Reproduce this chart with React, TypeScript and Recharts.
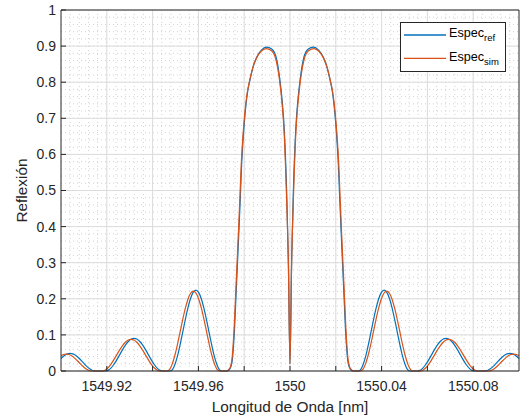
import React from "react";
import { LineChart, Line, XAxis, YAxis, CartesianGrid, Legend } from "recharts";

// Espec_ref (blue) — wavelength [nm] and reflection
const refWl = [
  // side lobe -3
  1549.9, 1549.9015, 1549.9028, 1549.904, 1549.9052, 1549.9065, 1549.908, 1549.9095, 1549.911, 1549.9125, 1549.9138, 1549.915,
  // side lobe -2
  1549.9194, 1549.9205, 1549.9217, 1549.923, 1549.9243, 1549.9256, 1549.9269, 1549.9282, 1549.9295, 1549.9307, 1549.9319,
  1549.9331, 1549.9343, 1549.9356, 1549.9369, 1549.9382, 1549.9395, 1549.9408, 1549.9421, 1549.9433, 1549.9444,
  // side lobe -1
  1549.9477, 1549.9488, 1549.9499, 1549.951, 1549.9521, 1549.9532, 1549.9543, 1549.9554, 1549.9565, 1549.9577, 1549.9589,
  1549.9601, 1549.9613, 1549.9624, 1549.9635, 1549.9646, 1549.9657, 1549.9668, 1549.9679, 1549.969, 1549.9701,
  // main lobes
  1549.9725, 1549.9735, 1549.9742, 1549.9748, 1549.9753, 1549.9758, 1549.9764, 1549.977, 1549.9777, 1549.9783, 1549.9789,
  1549.9796, 1549.9804, 1549.9814, 1549.9825, 1549.984, 1549.9855, 1549.9875, 1549.9898, 1549.992, 1549.9939, 1549.9956,
  1549.9967, 1549.9975, 1549.9986, 1549.9993, 1550,
  1550.0007, 1550.0014, 1550.0025, 1550.0033, 1550.0044, 1550.0061, 1550.008, 1550.0102, 1550.0125, 1550.0145, 1550.016,
  1550.0175, 1550.0186, 1550.0196, 1550.0204, 1550.0211, 1550.0217, 1550.0223, 1550.023, 1550.0236, 1550.0242, 1550.0247,
  1550.0252, 1550.0258, 1550.0265, 1550.0275,
  // side lobe +1
  1550.0299, 1550.031, 1550.0321, 1550.0332, 1550.0343, 1550.0354, 1550.0365, 1550.0376, 1550.0387, 1550.0399, 1550.0411,
  1550.0423, 1550.0435, 1550.0446, 1550.0457, 1550.0468, 1550.0479, 1550.049, 1550.0501, 1550.0512, 1550.0523,
  // side lobe +2
  1550.0556, 1550.0567, 1550.0579, 1550.0592, 1550.0605, 1550.0618, 1550.0631, 1550.0644, 1550.0657, 1550.0669, 1550.0681,
  1550.0693, 1550.0705, 1550.0718, 1550.0731, 1550.0744, 1550.0757, 1550.077, 1550.0783, 1550.0795, 1550.0806,
  // side lobe +3
  1550.085, 1550.0862, 1550.0875, 1550.089, 1550.0905, 1550.092, 1550.0935, 1550.0948, 1550.096, 1550.0972, 1550.0985, 1550.1,
];
const refR = [
  0.0347, 0.043, 0.0476, 0.049, 0.0476, 0.043, 0.0347, 0.0245, 0.0143, 0.006, 0.0014, 0,
  0, 0.0017, 0.0074, 0.0173, 0.0302, 0.0446, 0.0592, 0.0724, 0.0825, 0.0885, 0.0905,
  0.0885, 0.0825, 0.0724, 0.0592, 0.0446, 0.0302, 0.0173, 0.0074, 0.0017, 0,
  0, 0.0052, 0.0207, 0.0446, 0.0752, 0.1089, 0.1429, 0.1743, 0.1995, 0.2178, 0.224,
  0.2178, 0.1995, 0.1743, 0.1429, 0.1089, 0.0752, 0.0446, 0.0207, 0.0052, 0,
  0, 0.004, 0.012, 0.03, 0.067, 0.12, 0.206, 0.29, 0.39, 0.48, 0.575,
  0.65, 0.714, 0.77, 0.806, 0.845, 0.87, 0.889, 0.897, 0.892, 0.87, 0.806,
  0.74, 0.668, 0.483, 0.298, 0.02,
  0.298, 0.483, 0.668, 0.74, 0.806, 0.87, 0.892, 0.897, 0.889, 0.87, 0.845,
  0.806, 0.77, 0.714, 0.65, 0.575, 0.48, 0.39, 0.29, 0.206, 0.12, 0.067,
  0.03, 0.012, 0.004, 0,
  0, 0.0052, 0.0207, 0.0446, 0.0752, 0.1089, 0.1429, 0.1743, 0.1995, 0.2178, 0.224,
  0.2178, 0.1995, 0.1743, 0.1429, 0.1089, 0.0752, 0.0446, 0.0207, 0.0052, 0,
  0, 0.0017, 0.0074, 0.0173, 0.0302, 0.0446, 0.0592, 0.0724, 0.0825, 0.0885, 0.0905,
  0.0885, 0.0825, 0.0724, 0.0592, 0.0446, 0.0302, 0.0173, 0.0074, 0.0017, 0,
  0, 0.0014, 0.006, 0.0143, 0.0245, 0.0347, 0.043, 0.0476, 0.049, 0.0476, 0.043, 0.0347,
];

// Espec_sim (orange)
const simWl = [
  1549.9, 1549.9011, 1549.9023, 1549.9035, 1549.9048, 1549.9063, 1549.9078, 1549.9093, 1549.9108, 1549.9122, 1549.9135,
  1549.9179, 1549.919, 1549.9203, 1549.9216, 1549.9229, 1549.9242, 1549.9255, 1549.9268, 1549.9281, 1549.9294, 1549.9306,
  1549.9318, 1549.9331, 1549.9344, 1549.9357, 1549.937, 1549.9383, 1549.9396, 1549.9409, 1549.9422, 1549.9433,
  1549.9464, 1549.9475, 1549.9486, 1549.9497, 1549.9508, 1549.9519, 1549.9531, 1549.9543, 1549.9554, 1549.9566, 1549.9578,
  1549.959, 1549.9602, 1549.9613, 1549.9625, 1549.9637, 1549.9648, 1549.9659, 1549.967, 1549.9681, 1549.9692,
  1549.9722, 1549.9732, 1549.974, 1549.9746, 1549.9751, 1549.9756, 1549.9762, 1549.9768, 1549.9775, 1549.9781, 1549.9787,
  1549.9794, 1549.9802, 1549.9812, 1549.9823, 1549.9838, 1549.9853, 1549.9873, 1549.9896, 1549.9918, 1549.9937, 1549.9955,
  1549.9966, 1549.9974, 1549.9985, 1549.9993, 1550,
  1550.0007, 1550.0015, 1550.0026, 1550.0034, 1550.0045, 1550.0063, 1550.0082, 1550.0104, 1550.0127, 1550.0147, 1550.0162,
  1550.0177, 1550.0188, 1550.0198, 1550.0206, 1550.0213, 1550.0219, 1550.0225, 1550.0232, 1550.0238, 1550.0244, 1550.0249,
  1550.0254, 1550.026, 1550.0268, 1550.0278,
  1550.0308, 1550.0319, 1550.033, 1550.0341, 1550.0352, 1550.0363, 1550.0375, 1550.0387, 1550.0398, 1550.041, 1550.0422,
  1550.0434, 1550.0446, 1550.0457, 1550.0469, 1550.0481, 1550.0492, 1550.0503, 1550.0514, 1550.0525, 1550.0536,
  1550.0567, 1550.0578, 1550.0591, 1550.0604, 1550.0617, 1550.063, 1550.0643, 1550.0656, 1550.0669, 1550.0682, 1550.0694,
  1550.0706, 1550.0719, 1550.0732, 1550.0745, 1550.0758, 1550.0771, 1550.0784, 1550.0797, 1550.081, 1550.0821,
  1550.0865, 1550.0878, 1550.0892, 1550.0907, 1550.0922, 1550.0937, 1550.0952, 1550.0965, 1550.0977, 1550.0989, 1550.1,
];
const simR = [
  0.0423, 0.0457, 0.047, 0.0457, 0.0414, 0.0337, 0.0242, 0.0145, 0.0064, 0.0015, 0,
  0, 0.0016, 0.0075, 0.0171, 0.0295, 0.0433, 0.0572, 0.0698, 0.0797, 0.0859, 0.0878,
  0.0859, 0.0797, 0.0698, 0.0572, 0.0433, 0.0295, 0.0171, 0.0075, 0.0016, 0,
  0, 0.0051, 0.0198, 0.0429, 0.0718, 0.1046, 0.1409, 0.1739, 0.1982, 0.2155, 0.2215,
  0.2155, 0.1982, 0.1739, 0.1409, 0.1046, 0.0718, 0.0429, 0.0198, 0.0051, 0,
  0, 0.004, 0.012, 0.03, 0.066, 0.118, 0.203, 0.287, 0.387, 0.477, 0.571,
  0.646, 0.71, 0.766, 0.802, 0.841, 0.866, 0.885, 0.893, 0.888, 0.866, 0.802,
  0.737, 0.665, 0.48, 0.296, 0.02,
  0.296, 0.48, 0.665, 0.737, 0.802, 0.866, 0.888, 0.893, 0.885, 0.866, 0.841,
  0.802, 0.766, 0.71, 0.646, 0.571, 0.477, 0.387, 0.287, 0.203, 0.118, 0.066,
  0.03, 0.012, 0.004, 0,
  0, 0.0051, 0.0198, 0.0429, 0.0718, 0.1046, 0.1409, 0.1739, 0.1982, 0.2155, 0.2215,
  0.2155, 0.1982, 0.1739, 0.1409, 0.1046, 0.0718, 0.0429, 0.0198, 0.0051, 0,
  0, 0.0016, 0.0075, 0.0171, 0.0295, 0.0433, 0.0572, 0.0698, 0.0797, 0.0859, 0.0878,
  0.0859, 0.0797, 0.0698, 0.0572, 0.0433, 0.0295, 0.0171, 0.0075, 0.0016, 0,
  0, 0.0015, 0.0064, 0.0145, 0.0242, 0.0337, 0.0414, 0.0457, 0.047, 0.0457, 0.0423,
];

const xTicks = [1549.92, 1549.94, 1549.96, 1549.98, 1550, 1550.02, 1550.04, 1550.06, 1550.08];
const xTickLabels = ["1549.92", "", "1549.96", "", "1550", "", "1550.04", "", "1550.08"];
const yTicks = [0, 0.1, 0.2, 0.3, 0.4, 0.5, 0.6, 0.7, 0.8, 0.9, 1];
const yTickLabels = ["0", "0.1", "0.2", "0.3", "0.4", "0.5", "0.6", "0.7", "0.8", "0.9", "1"];

// minor grid every 0.004 nm / 0.02
const minorX = Array.from({ length: 49 }, (_, i) => Number((1549.904 + i * 0.004).toFixed(3)));
const minorY = Array.from({ length: 49 }, (_, i) => Number((0.02 + i * 0.02).toFixed(2)));

const BLUE = "#0072BD";
const ORANGE = "#D95319";
const AXIS = "#262626";
const FONT = "'Liberation Sans', Arial, Helvetica, sans-serif";

const refData = refWl.map((wl, i) => ({ wl, r: refR[i] }));
const simData = simWl.map((wl, i) => ({ wl, r: simR[i] }));

const xLabel = (v: number) => {
  const i = xTicks.findIndex((t) => Math.abs(t - v) < 1e-6);
  return i >= 0 ? xTickLabels[i] : "";
};
const yLabel = (v: number) => {
  const i = yTicks.findIndex((t) => Math.abs(t - v) < 1e-6);
  return i >= 0 ? yTickLabels[i] : "";
};

const LegendBox = () => (
  <svg width={106} height={50} style={{ display: "block", fontFamily: FONT }}>
    <rect x={0.5} y={0.5} width={105} height={49} fill="#fff" stroke={AXIS} />
    <line x1={4} x2={46} y1={13} y2={13} stroke={BLUE} strokeWidth={1.3} />
    <text x={49} y={15.3} fontSize={12.6} fill="#000">
      Espec<tspan dy={4} fontSize={9.5}>ref</tspan>
    </text>
    <line x1={4} x2={46} y1={36.3} y2={36.3} stroke={ORANGE} strokeWidth={1.3} />
    <text x={49} y={38.7} fontSize={12.6} fill="#000">
      Espec<tspan dy={4} fontSize={9.5}>sim</tspan>
    </text>
  </svg>
);

const App: React.FC = () => {
  const tickStyle = { fontSize: 14, fill: AXIS, fontFamily: FONT };
  return (
    <div style={{ position: "absolute", left: 0, top: 0, background: "#fff" }}>
      <LineChart width={526} height={420} margin={{ top: 0, right: 0, bottom: 0, left: 0 }} style={{ fontFamily: FONT }}>
        <CartesianGrid
          xAxisId="bottom"
          yAxisId="left"
          verticalValues={minorX}
          horizontalValues={minorY}
          stroke="#d2d2d2"
          strokeDasharray="1 3"
        />
        <CartesianGrid
          xAxisId="bottom"
          yAxisId="left"
          verticalValues={xTicks}
          horizontalValues={yTicks}
          stroke="#dcdcdc"
        />
        <XAxis
          xAxisId="bottom"
          dataKey="wl"
          type="number"
          domain={[1549.9, 1550.1]}
          allowDataOverflow
          ticks={xTicks}
          interval={0}
          tickFormatter={xLabel}
          height={49}
          tickSize={-5}
          tickMargin={15}
          tick={tickStyle}
          stroke={AXIS}
          label={{ value: "Longitud de Onda [nm]", position: "insideBottom", offset: 8, fill: AXIS, fontSize: 15.4 }}
        />
        <XAxis
          xAxisId="top"
          orientation="top"
          dataKey="wl"
          type="number"
          domain={[1549.9, 1550.1]}
          allowDataOverflow
          ticks={xTicks}
          interval={0}
          height={10}
          tickSize={-5}
          tick={false}
          stroke={AXIS}
        />
        <YAxis
          yAxisId="left"
          type="number"
          domain={[0, 1]}
          ticks={yTicks}
          interval={0}
          tickFormatter={yLabel}
          width={61}
          tickSize={-5}
          tickMargin={10}
          tick={tickStyle}
          stroke={AXIS}
          label={{ value: "Reflexión", angle: -90, position: "insideLeft", offset: 22, fill: AXIS, fontSize: 15.4, style: { textAnchor: "middle" } }}
        />
        <YAxis
          yAxisId="right"
          orientation="right"
          type="number"
          domain={[0, 1]}
          ticks={yTicks}
          interval={0}
          width={7}
          tickSize={-5}
          tick={false}
          stroke={AXIS}
        />
        <Line
          xAxisId="bottom"
          yAxisId="left"
          data={refData}
          dataKey="r"
          type="monotone"
          stroke={BLUE}
          strokeWidth={1.2}
          dot={false}
          isAnimationActive={false}
        />
        <Line
          xAxisId="bottom"
          yAxisId="left"
          data={simData}
          dataKey="r"
          type="monotone"
          stroke={ORANGE}
          strokeWidth={1.2}
          dot={false}
          isAnimationActive={false}
        />
        <Legend
          layout="vertical"
          align="center"
          verticalAlign="middle"
          wrapperStyle={{ position: "absolute", left: 400, top: 22, width: 106, height: 50 }}
          content={() => <LegendBox />}
        />
      </LineChart>
    </div>
  );
};

export default App;
